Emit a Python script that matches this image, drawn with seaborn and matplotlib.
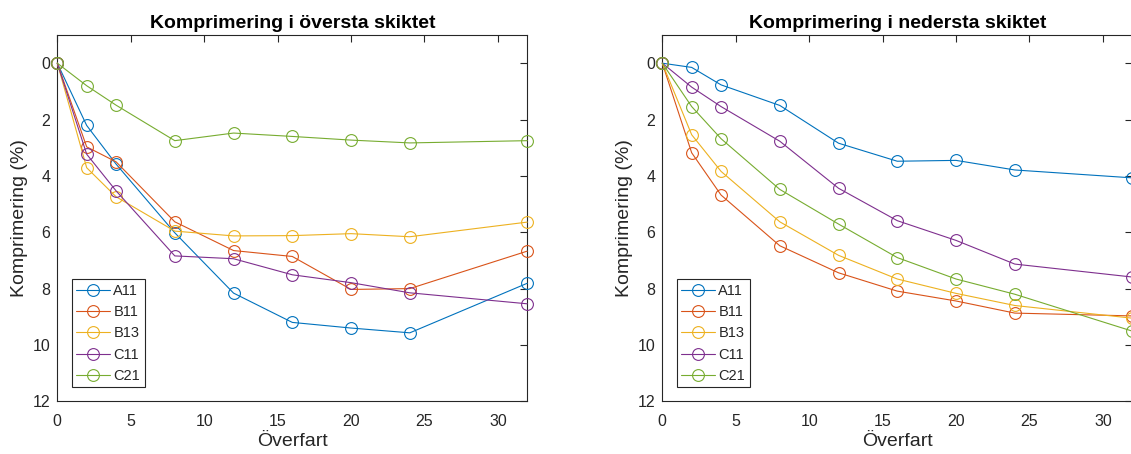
import matplotlib
matplotlib.use("Agg")
import matplotlib.pyplot as plt
import seaborn as sns
import pandas as pd

# Passes (Överfart) at which compression was measured
overfart = [0, 2, 4, 8, 12, 16, 20, 24, 32]
serier = ["A11", "B11", "B13", "C11", "C21"]

# Compression (%) in the top layer
topp_A11 = [0, 2.21, 3.58, 6.02, 8.16, 9.20, 9.40, 9.57, 7.81]
topp_B11 = [0, 2.97, 3.50, 5.63, 6.65, 6.86, 8.03, 8.00, 6.67]
topp_B13 = [0, 3.71, 4.74, 5.96, 6.13, 6.12, 6.05, 6.16, 5.64]
topp_C11 = [0, 3.23, 4.53, 6.84, 6.94, 7.51, 7.79, 8.15, 8.54]
topp_C21 = [0, 0.80, 1.49, 2.75, 2.48, 2.60, 2.73, 2.83, 2.75]

# Compression (%) in the bottom layer
botten_A11 = [0, 0.15, 0.77, 1.50, 2.84, 3.48, 3.45, 3.79, 4.07]
botten_B11 = [0, 3.18, 4.68, 6.48, 7.44, 8.09, 8.44, 8.87, 8.97]
botten_B13 = [0, 2.54, 3.84, 5.63, 6.82, 7.66, 8.17, 8.60, 9.05]
botten_C11 = [0, 0.85, 1.54, 2.77, 4.44, 5.59, 6.29, 7.13, 7.59]
botten_C21 = [0, 1.54, 2.68, 4.48, 5.71, 6.90, 7.66, 8.20, 9.51]

titlar = ["Komprimering i översta skiktet", "Komprimering i nedersta skiktet"]
xtext = "Överfart"
ytext = "Komprimering (%)"
yticks = [0, 2, 4, 6, 8, 10, 12]
xticks = [0, 5, 10, 15, 20, 25, 30]

farger = ["#0072BD", "#D95319", "#EDB120", "#7E2F8E", "#77AC30"]


def long_form(series_values):
    rows = []
    for namn, vals in zip(serier, series_values):
        for x, y in zip(overfart, vals):
            rows.append({"Överfart": x, "Komprimering": y, "Serie": namn})
    return pd.DataFrame(rows)


df_topp = long_form([topp_A11, topp_B11, topp_B13, topp_C11, topp_C21])
df_botten = long_form([botten_A11, botten_B11, botten_B13, botten_C11, botten_C21])

sns.set_style("white")
plt.rcParams["font.family"] = ["Liberation Sans", "DejaVu Sans"]

W, H = 1131, 454
fig = plt.figure(figsize=(W / 100, H / 100), dpi=100)

ax_w = 470 / W
ax_h = (401.3 - 35) / H
ax_b = (H - 401.3) / H
axes = [
    fig.add_axes([57.3 / W, ax_b, ax_w, ax_h]),
    fig.add_axes([662.3 / W, ax_b, ax_w, ax_h]),
]

ink = "#262626"
for ax, df, titel in zip(axes, [df_topp, df_botten], titlar):
    for namn, farg in zip(serier, farger):
        sub = df[df["Serie"] == namn]
        sns.lineplot(data=sub, x="Överfart", y="Komprimering", ax=ax,
                     color=farg, marker="o", markersize=8.5,
                     markerfacecolor="none", markeredgecolor=farg,
                     markeredgewidth=0.8, linewidth=0.8, label=namn,
                     clip_on=False, zorder=3)
    ax.set_xlim(0, 32)
    ax.set_ylim(12, -1)
    ax.set_xticks(xticks)
    ax.set_yticks(yticks)
    ax.tick_params(direction="in", length=5, width=0.8, colors=ink,
                   labelsize=11.5, top=True, right=True,
                   labeltop=False, labelright=False, pad=5)
    ax.tick_params(axis="x", pad=9)
    ax.tick_params(axis="both", labelcolor=ink)
    for sp in ax.spines.values():
        sp.set_visible(True)
        sp.set_color(ink)
        sp.set_linewidth(0.8)
    ax.set_title(titel, fontsize=14, fontweight="bold", color="black", pad=5)
    ax.set_xlabel(xtext, fontsize=14, color=ink, labelpad=3)
    ax.set_ylabel(ytext, fontsize=14, color=ink, labelpad=3)
    leg = ax.legend(loc="lower left", bbox_to_anchor=(0.031, 0.038),
                    borderaxespad=0, frameon=True, fancybox=False,
                    framealpha=1, edgecolor=ink, fontsize=10.5,
                    handlelength=2.3, handletextpad=0.25,
                    labelspacing=0.5, borderpad=0.3)
    leg.get_frame().set_linewidth(0.8)

fig.savefig("out.png", dpi=100)
